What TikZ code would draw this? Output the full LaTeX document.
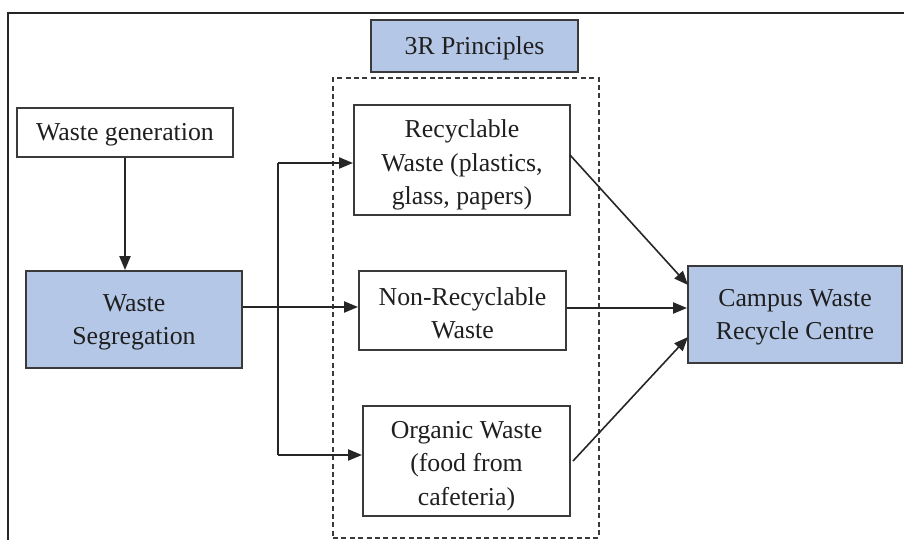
\documentclass[tikz,border=0pt]{standalone}
\usepackage{fontspec}
\setmainfont{Liberation Serif}
\usetikzlibrary{arrows.meta,calc}
\definecolor{boxblue}{HTML}{B4C7E7}
\definecolor{edge}{HTML}{3A3A3A}
\begin{document}
\begin{tikzpicture}[x=0.5pt,y=-0.5pt,
  every node/.style={font=\fontsize{12.9}{16.6}\selectfont, text=black!88},
  wbox/.style={draw=edge, line width=1pt, fill=white, inner sep=0pt},
  bbox/.style={wbox, fill=boxblue},
  lbl/.style={align=center, inner sep=0pt},
  conn/.style={line width=0.8pt, draw=black!85},
  arr/.style={conn, -{Triangle[length=7pt,width=5.6pt]}}]
\useasboundingbox (0,0) rectangle (904,540);
% outer frame (partly cropped)
\draw[line width=0.8pt, black!85] (8,540) -- (8,13) -- (904,13);
% dashed group
\node[draw=edge, line width=0.9pt, dash pattern=on 2.5pt off 1.7pt, minimum width=133pt, minimum height=230pt, inner sep=0pt] (grp) at (466,308) {};
\node[bbox, minimum width=103.5pt, minimum height=26pt] (tr) at (474.5,46) {};
\node[wbox, minimum width=108pt, minimum height=24.5pt] (gen) at (125,132.5) {};
\node[bbox, minimum width=108pt, minimum height=48.5pt] (seg) at (134,319.5) {};
\node[wbox, minimum width=108pt, minimum height=55pt] (rec) at (462,160) {};
\node[wbox, minimum width=103.5pt, minimum height=39.5pt] (non) at (462.5,310.5) {};
\node[wbox, minimum width=103.5pt, minimum height=55pt] (org) at (466.5,461) {};
\node[bbox, minimum width=107pt, minimum height=48.5pt] (cam) at (795,314.5) {};
% labels
\node[lbl] (trt) at ([yshift=-1pt]tr.center) {3R Principles};
\node[lbl] (gent) at ([yshift=-1pt]gen.center) {Waste generation};
\node[lbl] (segt) at ([yshift=-1.5pt]seg.center) {Waste\\Segregation};
\node[lbl] (rect) at ([yshift=-2.5pt]rec.center) {Recyclable\\Waste (plastics,\\glass, papers)};
\node[lbl] (nont) at ([yshift=-1.5pt]non.center) {Non-Recyclable\\Waste};
\node[lbl] (orgt) at ([yshift=-2.5pt]org.center) {Organic Waste\\(food from\\cafeteria)};
\node[lbl] (camt) at ([yshift=-1.5pt]cam.center) {Campus Waste\\Recycle Centre};
% connectors
\coordinate (j) at (278,307);
\coordinate (jt) at (278,163);
\coordinate (jb) at (278,455);
\draw[arr] (gen.south) -- (gen.south |- seg.north);
\draw[arr] (seg.east |- j) -- (non.west |- j);
\draw[conn] (jt) -- (jb);
\draw[arr] (jt) -- (rec.west |- jt);
\draw[arr] (jb) -- (org.west |- jb);
\coordinate (r1) at (570,155);
\coordinate (r2) at (688,285);
\coordinate (o1) at (573,461);
\coordinate (o2) at (688,337);
\draw[arr] (r1) -- (r2);
\draw[arr] (non.east |- 0,308) -- (cam.west |- 0,308);
\draw[arr] (o1) -- (o2);
\end{tikzpicture}
\end{document}
